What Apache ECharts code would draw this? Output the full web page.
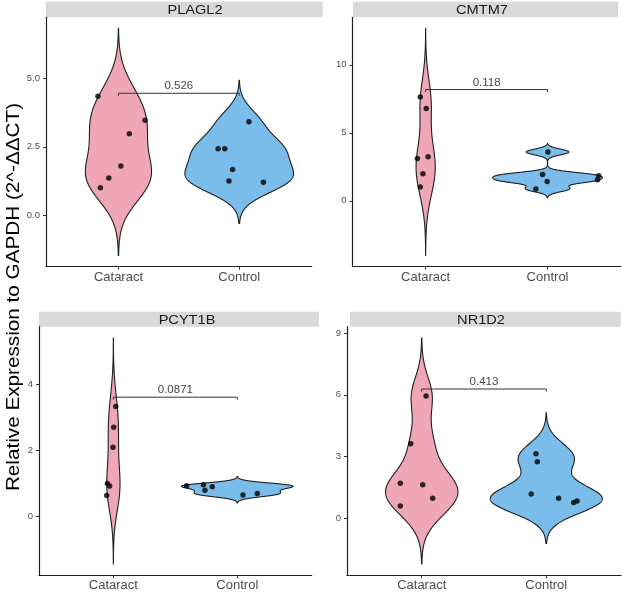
<!DOCTYPE html>
<html><head><meta charset="utf-8">
<script src="https://cdn.jsdelivr.net/npm/echarts@6/dist/echarts.min.js"></script>
<style>html,body{margin:0;padding:0;background:#fff}#c{width:622px;height:595px}</style>
</head><body><div id="c"></div>
<script>
// ---------- data ----------
const categories = ['Cataract', 'Control'];
const genes = ['PLAGL2', 'CMTM7', 'PCYT1B', 'NR1D2'];
const pValues = ['0.526', '0.118', '0.0871', '0.413'];
const bracketY = [4.46, 8.18, 3.62, 6.28];
const yTicks = [[0, 2.5, 5], [0, 5, 10], [0, 2, 4], [0, 3, 6, 9]];
const yDecimals = [1, 0, 0, 0];

const plagl2Cataract = [4.35, 3.47, 2.98, 1.80, 1.36, 1.00];
const plagl2Control  = [2.43, 2.43, 3.42, 1.67, 1.25, 1.20];
const cmtm7Cataract  = [7.64, 6.78, 3.12, 3.24, 1.99, 1.01];
const cmtm7Control   = [3.59, 1.94, 1.43, 0.88, 1.84, 1.55];
const pcyt1bCataract = [3.34, 2.71, 2.10, 1.00, 0.92, 0.63];
const pcyt1bControl  = [0.93, 0.96, 0.79, 0.90, 0.65, 0.69];
const nr1d2Cataract  = [5.94, 3.62, 1.71, 1.63, 0.98, 0.60];
const nr1d2Control   = [3.14, 2.75, 1.18, 0.98, 0.77, 0.84];

// horizontal jitter of the points (category units)
const plagl2CataractJitter = [-0.17, 0.22, 0.09, 0.02, -0.08, -0.15];
const plagl2ControlJitter  = [-0.175, -0.12, 0.08, -0.055, -0.085, 0.2];
const cmtm7CataractJitter  = [-0.044, 0.005, -0.068, 0.02, -0.022, -0.044];
const cmtm7ControlJitter   = [0.003, -0.041, -0.003, -0.096, 0.42, 0.41];
const pcyt1bCataractJitter = [0.019, 0.003, -0.003, -0.048, -0.030, -0.054];
const pcyt1bControlJitter  = [-0.409, -0.274, -0.261, -0.202, 0.046, 0.161];
const nr1d2CataractJitter  = [0.035, -0.088, -0.172, 0.008, 0.088, -0.172];
const nr1d2ControlJitter   = [-0.083, -0.072, -0.121, 0.099, 0.22, 0.247];

const panelValues = [
  [plagl2Cataract, plagl2Control],
  [cmtm7Cataract, cmtm7Control],
  [pcyt1bCataract, pcyt1bControl],
  [nr1d2Cataract, nr1d2Control]
];
const panelJitter = [
  [plagl2CataractJitter, plagl2ControlJitter],
  [cmtm7CataractJitter, cmtm7ControlJitter],
  [pcyt1bCataractJitter, pcyt1bControlJitter],
  [nr1d2CataractJitter, nr1d2ControlJitter]
];

// ---------- layout / style ----------
const FONT = 'Liberation Sans, Arial, Helvetica, sans-serif';
const fills = ['#EFA7B7', '#7BBDEA'];
const grids = [
  { left: 46, top: 17.3, width: 265.7, height: 249.4 },
  { left: 352.5, top: 17.3, width: 268.2, height: 249.4 },
  { left: 39, top: 326.7, width: 272.7, height: 248.6 },
  { left: 347, top: 326.7, width: 274, height: 248.6 }
];
const strips = [
  { x: 46, y: 1.7, w: 276.7, h: 15.6, tx: 195 },
  { x: 353, y: 1.7, w: 265, h: 15.6, tx: 482 },
  { x: 39, y: 311.7, w: 280, h: 15, tx: 187 },
  { x: 350, y: 311.7, w: 270.7, h: 15, tx: 481 }
];

// ---------- kernel density (as geom_violin, trim = FALSE) ----------
function q7(s, p) {
  const h = (s.length - 1) * p, lo = Math.floor(h);
  const hi = Math.min(lo + 1, s.length - 1);
  return s[lo] + (h - lo) * (s[hi] - s[lo]);
}
function bwNrd0(x) {
  const n = x.length;
  const m = x.reduce((a, b) => a + b, 0) / n;
  const sd = Math.sqrt(x.reduce((a, b) => a + (b - m) * (b - m), 0) / (n - 1));
  const s = [...x].sort((a, b) => a - b);
  const iqr = q7(s, 0.75) - q7(s, 0.25);
  let lo = Math.min(sd, iqr / 1.34);
  if (!lo) lo = sd || Math.abs(s[0]) || 1;
  return 0.9 * lo * Math.pow(n, -0.2);
}
function kde(x) {
  const bw = bwNrd0(x);
  const from = Math.min(...x) - 3 * bw, to = Math.max(...x) + 3 * bw;
  const N = 512, ys = [], ds = [];
  const c = 1 / (bw * Math.sqrt(2 * Math.PI) * x.length);
  for (let i = 0; i < N; i++) {
    const y = from + (to - from) * i / (N - 1);
    let d = 0;
    for (const xi of x) { const z = (y - xi) / bw; d += Math.exp(-0.5 * z * z); }
    ys.push(y); ds.push(d * c);
  }
  return { ys, ds, from, to };
}

// ---------- build option ----------
const option = {
  animation: false,
  backgroundColor: '#fff',
  grid: grids.map(g => Object.assign({ containLabel: false }, g)),
  xAxis: [], yAxis: [], series: [],
  graphic: []
};

panelValues.forEach((groups, p) => {
  const dens = groups.map(kde);
  const maxD = Math.max(...dens.map(d => Math.max(...d.ds)));
  const lo = Math.min(...dens.map(d => d.from));
  const hi = Math.max(...dens.map(d => d.to));
  const pad = 0.05 * (hi - lo);
  const yMin = lo - pad, yMax = hi + pad;

  option.xAxis.push({
    type: 'value', gridIndex: p, min: 0.4, max: 2.6,
    splitLine: { show: false },
    axisLine: { show: true, onZero: false, lineStyle: { color: '#222', width: 1.2 } },
    axisTick: { show: true, length: 3, customValues: [1, 2], lineStyle: { color: '#333', width: 1 } },
    axisLabel: {
      customValues: [1, 2], margin: 4, fontSize: 13, color: '#4d4d4d', fontFamily: FONT,
      formatter: v => categories[Math.round(v) - 1]
    }
  });
  option.yAxis.push({
    type: 'value', gridIndex: p, min: yMin, max: yMax,
    splitLine: { show: false },
    axisLine: { show: true, onZero: false, lineStyle: { color: '#222', width: 1.2 } },
    axisTick: { show: true, length: 3, customValues: yTicks[p], lineStyle: { color: '#333', width: 1 } },
    axisLabel: {
      customValues: yTicks[p], margin: 6, fontSize: 9.5, color: '#4d4d4d', fontFamily: FONT,
      formatter: v => Number(v).toFixed(yDecimals[p])
    }
  });

  // violins
  dens.forEach((d, gi) => {
    const center = gi + 1;
    const hw = d.ds.map(v => v / maxD * 0.45);
    option.series.push({
      type: 'custom', xAxisIndex: p, yAxisIndex: p, silent: true, z: 1,
      data: [[center, (d.from + d.to) / 2]],
      renderItem: (params, api) => {
        const pts = [];
        for (let i = 0; i < d.ys.length; i++) pts.push(api.coord([center + hw[i], d.ys[i]]));
        for (let i = d.ys.length - 1; i >= 0; i--) pts.push(api.coord([center - hw[i], d.ys[i]]));
        return {
          type: 'polygon', shape: { points: pts },
          style: { fill: fills[gi], stroke: '#1f1f1f', lineWidth: 1.1 }
        };
      }
    });
  });

  // points
  groups.forEach((vals, gi) => {
    option.series.push({
      type: 'scatter', xAxisIndex: p, yAxisIndex: p, z: 4, silent: true,
      symbolSize: 5.5, itemStyle: { color: '#000' },
      data: vals.map((v, i) => [gi + 1 + panelJitter[p][gi][i], v])
    });
  });

  // comparison bracket
  const tip = 0.01 * (yMax - yMin);
  const by = bracketY[p];
  option.series.push({
    type: 'line', xAxisIndex: p, yAxisIndex: p, z: 3, silent: true,
    showSymbol: false, symbol: 'none',
    lineStyle: { color: '#333', width: 1 },
    data: [[1, by - tip], [1, by], [2, by], [2, by - tip]]
  });
  option.series.push({
    type: 'scatter', xAxisIndex: p, yAxisIndex: p, z: 5, silent: true,
    symbolSize: 0,
    label: {
      show: true, position: 'top', distance: 1, formatter: pValues[p],
      fontSize: 11.5, color: '#111', fontFamily: FONT
    },
    data: [[1.5, by]]
  });

  // strip
  const s = strips[p];
  option.graphic.push({
    type: 'rect', shape: { x: s.x, y: s.y, width: s.w, height: s.h },
    style: { fill: '#D9D9D9' }, z: 0, silent: true
  });
  option.graphic.push({
    type: 'text', x: s.tx, y: s.y + s.h / 2 + 0.8, scaleX: 1.08,
    style: { text: genes[p], fontSize: 13.5, fill: '#1a1a1a', fontFamily: FONT, textAlign: 'center', textVerticalAlign: 'middle' },
    z: 1, silent: true
  });
});

option.graphic.push({
  type: 'text', x: 14, y: 297, rotation: Math.PI / 2, scaleX: 1.15,
  style: {
    text: 'Relative Expression to GAPDH (2^-ΔΔCT)', fontSize: 18, fill: '#000',
    fontFamily: FONT, textAlign: 'center', textVerticalAlign: 'middle'
  },
  silent: true
});

const chart = echarts.init(document.getElementById('c'), null, { renderer: 'canvas' });
chart.setOption(option);
</script>
</body></html>
